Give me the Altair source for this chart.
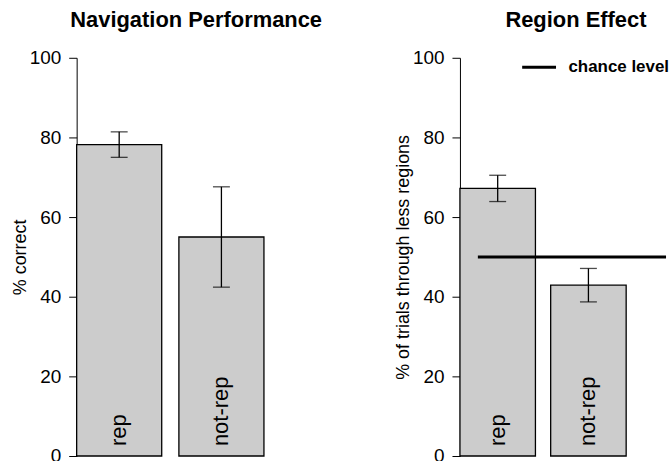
import altair as alt
import pandas as pd

# ---- data ----
conditions = ["rep", "not-rep"]
nav_mean = [78.2, 55.0]
nav_err = [3.2, 12.6]
region_mean = [67.2, 42.9]
region_err = [3.3, 4.2]
chance_level = 50
y_ticks = [0, 20, 40, 60, 80, 100]

FONT = "Liberation Sans"
YSCALE = alt.Scale(domain=[0, 100], nice=False)


def panel_layers(ytitle, means, errs):
    df = pd.DataFrame({"cond": conditions, "mean": means, "err": errs})
    base = alt.Chart(df).transform_calculate(
        lo="datum.mean - datum.err", hi="datum.mean + datum.err", zero="0"
    )
    x = alt.X(
        "cond:N",
        sort=conditions,
        axis=None,
        scale=alt.Scale(paddingInner=0.168, paddingOuter=0.2526, align=0),
    )
    bars = base.mark_bar(fill="#cccccc", stroke="black", strokeWidth=1.3).encode(
        x=x,
        y=alt.Y(
            "mean:Q",
            scale=YSCALE,
            axis=alt.Axis(title=ytitle, values=y_ticks, grid=False),
        ),
    )
    stem = base.mark_rule(color="black", strokeWidth=1.3).encode(
        x=x, y=alt.Y("lo:Q", scale=YSCALE), y2="hi:Q"
    )
    cap_lo = base.mark_tick(color="black", size=17, thickness=1.3, orient="horizontal").encode(
        x=x, y=alt.Y("lo:Q", scale=YSCALE)
    )
    cap_hi = base.mark_tick(color="black", size=17, thickness=1.3, orient="horizontal").encode(
        x=x, y=alt.Y("hi:Q", scale=YSCALE)
    )
    labels = base.mark_text(
        angle=270, align="left", baseline="middle", dx=10, fontSize=22, font=FONT, color="black"
    ).encode(x=x, y=alt.Y("zero:Q", scale=YSCALE), text="cond:N")
    return [bars, stem, cap_lo, cap_hi, labels]


left = alt.layer(*panel_layers("% correct", nav_mean, nav_err)).properties(
    width=240,
    height=400,
    title=alt.TitleParams(
        "Navigation Performance", fontSize=22, fontWeight="bold", font=FONT,
        anchor="middle", offset=17, color="black",
    ),
)

chance_df = pd.DataFrame({"level": [chance_level], "label": ["chance level"]})
chance = alt.Chart(chance_df).mark_rule(strokeWidth=3).encode(
    y=alt.Y("level:Q", scale=YSCALE),
    x=alt.value(18),
    x2=alt.value(207),
    stroke=alt.Stroke(
        "label:N",
        scale=alt.Scale(range=["black"]),
        legend=alt.Legend(
            title=None,
            orient="none",
            legendX=446,
            legendY=-9,
            symbolType="stroke",
            symbolSize=1156,
            symbolStrokeWidth=3,
            labelFontSize=17,
            labelFontWeight="bold",
            labelFont=FONT,
            labelColor="black",
            labelOffset=11,
            padding=0,
        ),
    ),
)
right = alt.layer(
    *panel_layers("% of trials through less regions", region_mean, region_err), chance
).properties(
    width=213,
    height=400,
    title=alt.TitleParams(
        "Region Effect", fontSize=22, fontWeight="bold", font=FONT,
        anchor="middle", offset=17, dx=10, color="black",
    ),
)

chart = (
    alt.hconcat(left, right, spacing=72)
    .properties(padding={"left": 11, "top": 8, "right": 0, "bottom": 0})
    .configure_view(stroke=None)
    .configure_axis(
        domainColor="black",
        tickColor="black",
        labelColor="black",
        titleColor="black",
        tickSize=8,
        labelPadding=8,
        labelFontSize=19,
        titleFontSize=18,
        titleFontWeight="normal",
        labelFont=FONT,
        titleFont=FONT,
        titlePadding=0,
    )
)

chart.save("out.html", embed_options={"renderer": "svg", "actions": False})
